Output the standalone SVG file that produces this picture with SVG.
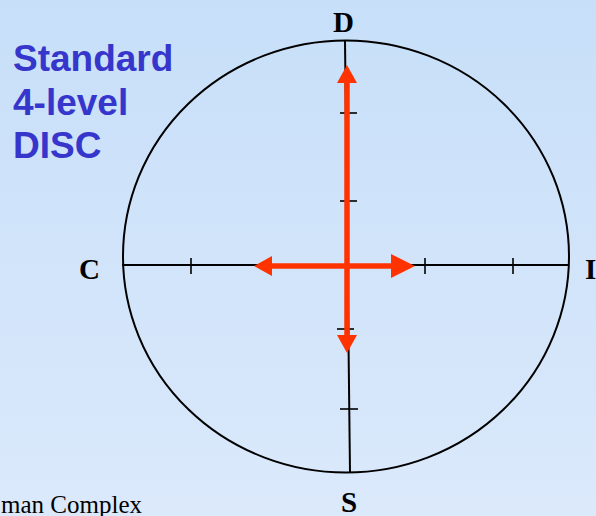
<svg xmlns="http://www.w3.org/2000/svg" width="596" height="516" viewBox="0 0 596 516">
<defs>
<linearGradient id="bg" x1="0" y1="0" x2="0" y2="1">
<stop offset="0" stop-color="#c7dff9"/>
<stop offset="1" stop-color="#dbe9fb"/>
</linearGradient>
<marker id="ah" viewBox="0 0 24 24" markerWidth="24" markerHeight="24" refX="0" refY="12" orient="auto" markerUnits="userSpaceOnUse">
<path d="M0,0 L24,12 L0,24 Z" fill="#ff3300"/>
</marker>
<marker id="ahs" viewBox="0 0 18 20" markerWidth="18" markerHeight="20" refX="0" refY="10" orient="auto" markerUnits="userSpaceOnUse">
<path d="M0,0 L18,10 L0,20 Z" fill="#ff3300"/>
</marker>
</defs>
<style>
.ax{stroke:#000;stroke-width:2;fill:none}
.tk{stroke:#000;stroke-width:1.6}
.lab{font-family:"Liberation Serif","Times New Roman",serif;font-weight:bold;font-size:29px;fill:#000}
.title{font-family:"Liberation Sans",Arial,sans-serif;font-weight:bold;font-size:37px;fill:#3636cc}
.arr{stroke:#ff3300;stroke-width:5.5;fill:none}
</style>
<rect width="596" height="516" fill="url(#bg)"/>
<g id="title">
<text class="title" x="13" y="71">Standard</text>
<text class="title" x="13" y="114.5">4-level</text>
<text class="title" x="13" y="158">DISC</text>
</g>
<g id="circle">
<ellipse cx="346" cy="256.5" rx="223" ry="216" class="ax" stroke-width="1.8"/>
</g>
<g id="axes">
<line class="ax" x1="122" y1="265" x2="569" y2="265"/>
<line class="ax" x1="345" y1="41" x2="350" y2="472"/>
<line class="tk" x1="191" y1="258" x2="191" y2="274"/>
<line class="tk" x1="271" y1="258" x2="271" y2="274"/>
<line class="tk" x1="425" y1="258" x2="425" y2="274"/>
<line class="tk" x1="513" y1="258" x2="513" y2="274"/>
<line class="tk" x1="340" y1="113" x2="357" y2="113"/>
<line class="tk" x1="340" y1="201" x2="357" y2="201"/>
<line class="tk" x1="337" y1="329" x2="354" y2="329"/>
<line class="tk" x1="340" y1="409" x2="358" y2="409"/>
</g>
<g id="connectors">
<line class="arr" x1="347" y1="266" x2="391" y2="266" marker-end="url(#ah)"/>
<line class="arr" x1="347" y1="266" x2="272" y2="266" marker-end="url(#ahs)"/>
<line class="arr" x1="347" y1="266" x2="347" y2="83" marker-end="url(#ahs)"/>
<line class="arr" x1="347" y1="266" x2="347" y2="335" marker-end="url(#ahs)"/>
</g>
<g id="label-D"><text class="lab" x="333" y="32">D</text></g>
<g id="label-C"><text class="lab" x="79" y="279">C</text></g>
<g id="label-I"><text class="lab" x="585" y="279">I</text></g>
<g id="label-S"><text class="lab" x="341" y="512">S</text></g>
<g id="footer">
<text x="142" y="513" text-anchor="end" font-family="Liberation Serif,'Times New Roman',serif" font-size="25" fill="#000">man Complex</text>
</g>
</svg>
